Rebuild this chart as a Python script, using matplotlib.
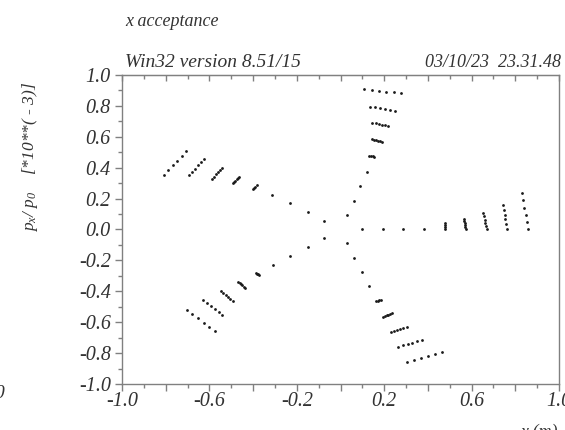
import numpy as np
import matplotlib
matplotlib.use("Agg")
import matplotlib.pyplot as plt
from matplotlib.ticker import MultipleLocator, FuncFormatter

plt.rcParams['font.family'] = ['Liberation Serif', 'DejaVu Serif']
plt.rcParams['font.style'] = 'italic'
plt.rcParams['axes.unicode_minus'] = False
plt.rcParams['mathtext.fontset'] = 'custom'
plt.rcParams['mathtext.it'] = 'Liberation Serif:italic'
plt.rcParams['mathtext.rm'] = 'Liberation Serif:italic'

# phase space points, five arms, inner -> outer (x in m, px/p0 in 1e-3)
ul_x = [-0.074, -0.150, -0.230, -0.312,
        -0.402, -0.396, -0.390, -0.384,
        -0.493, -0.487, -0.481, -0.475, -0.469, -0.463,
        -0.589, -0.580, -0.570, -0.561, -0.551, -0.542,
        -0.692, -0.678, -0.664, -0.651, -0.637, -0.623,
        -0.808, -0.788, -0.768, -0.747, -0.727, -0.707]
ul_y = [0.058, 0.115, 0.170, 0.221,
        0.260, 0.269, 0.278, 0.286,
        0.299, 0.308, 0.316, 0.325, 0.333, 0.342,
        0.329, 0.343, 0.357, 0.372, 0.386, 0.400,
        0.353, 0.374, 0.394, 0.415, 0.435, 0.456,
        0.353, 0.384, 0.415, 0.446, 0.477, 0.508]

ll_x = [-0.074, -0.150, -0.230, -0.308,
        -0.388, -0.383, -0.377, -0.372,
        -0.468, -0.462, -0.456, -0.449, -0.443, -0.437,
        -0.547, -0.536, -0.525, -0.515, -0.504, -0.493,
        -0.628, -0.611, -0.593, -0.576, -0.558, -0.541,
        -0.704, -0.678, -0.652, -0.626, -0.600, -0.574]
ll_y = [-0.053, -0.111, -0.170, -0.230,
        -0.280, -0.285, -0.289, -0.294,
        -0.338, -0.346, -0.354, -0.361, -0.369, -0.377,
        -0.396, -0.409, -0.422, -0.435, -0.448, -0.461,
        -0.456, -0.475, -0.495, -0.514, -0.534, -0.553,
        -0.521, -0.548, -0.575, -0.603, -0.630, -0.657]

up_x = [0.031, 0.062, 0.091, 0.120,
        0.132, 0.140, 0.147, 0.155,
        0.143, 0.152, 0.161, 0.170, 0.179, 0.188,
        0.146, 0.161, 0.175, 0.190, 0.204, 0.219,
        0.135, 0.158, 0.181, 0.203, 0.226, 0.249,
        0.109, 0.143, 0.176, 0.210, 0.243, 0.277]
up_y = [0.094, 0.186, 0.280, 0.374,
        0.478, 0.476, 0.473, 0.471,
        0.584, 0.581, 0.578, 0.574, 0.571, 0.568,
        0.691, 0.687, 0.682, 0.678, 0.674, 0.670,
        0.795, 0.790, 0.785, 0.779, 0.774, 0.769,
        0.907, 0.902, 0.897, 0.892, 0.887, 0.882]

rt_x = [0.097, 0.193, 0.288, 0.384,
        0.478, 0.478, 0.477, 0.477,
        0.573, 0.572, 0.570, 0.569, 0.567, 0.566,
        0.669, 0.666, 0.663, 0.660, 0.657, 0.654,
        0.760, 0.757, 0.754, 0.751, 0.748, 0.745,
        0.859, 0.853, 0.847, 0.841, 0.835, 0.829]
rt_y = [0.003, 0.003, 0.003, 0.003,
        0.003, 0.016, 0.029, 0.040,
        0.003, 0.016, 0.028, 0.041, 0.053, 0.066,
        0.003, 0.023, 0.044, 0.064, 0.085, 0.105,
        0.003, 0.034, 0.065, 0.097, 0.128, 0.159,
        0.003, 0.049, 0.095, 0.142, 0.188, 0.234]

lr_x = [0.031, 0.063, 0.097, 0.132,
        0.162, 0.170, 0.177, 0.185,
        0.196, 0.204, 0.211, 0.219, 0.226, 0.234,
        0.230, 0.245, 0.259, 0.274, 0.288, 0.303,
        0.265, 0.286, 0.307, 0.329, 0.350, 0.371,
        0.306, 0.337, 0.369, 0.400, 0.432, 0.463]
lr_y = [-0.089, -0.182, -0.273, -0.366,
        -0.463, -0.461, -0.458, -0.456,
        -0.564, -0.560, -0.555, -0.551, -0.546, -0.542,
        -0.661, -0.655, -0.650, -0.644, -0.639, -0.633,
        -0.759, -0.750, -0.741, -0.733, -0.724, -0.715,
        -0.856, -0.843, -0.830, -0.817, -0.804, -0.791]

x_labels = [-1.0, -0.6, -0.2, 0.2, 0.6, 1.0]

txt = '#333333'
axc = '#808080'

fig = plt.figure(figsize=(5.65, 4.30), dpi=100)
ax = fig.add_axes([122 / 565, 46 / 430, 437 / 565, 309 / 430])

for xs, ys in [(ul_x, ul_y), (ll_x, ll_y), (up_x, up_y), (rt_x, rt_y), (lr_x, lr_y)]:
    ax.plot(xs, ys, 'o', ms=2.0, mew=0, color='#1a1a1a')

ax.set_xlim(-1.0, 1.0)
ax.set_ylim(-1.0, 1.0)

for s in ax.spines.values():
    s.set_color(axc)
    s.set_linewidth(1.0)

ax.xaxis.set_major_locator(MultipleLocator(0.2))
ax.xaxis.set_minor_locator(MultipleLocator(0.1))
ax.yaxis.set_major_locator(MultipleLocator(0.2))
ax.yaxis.set_minor_locator(MultipleLocator(0.1))


def xfmt(v, pos):
    for l in x_labels:
        if abs(v - l) < 1e-6:
            return '%.1f' % l
    return ''


ax.xaxis.set_major_formatter(FuncFormatter(xfmt))
ax.yaxis.set_major_formatter(FuncFormatter(lambda v, p: '%.1f' % (0.0 if abs(v) < 1e-9 else v)))

ax.tick_params(which='both', direction='out', color=axc, labelcolor=txt,
               labelsize=14.5, right=False, top=False)
ax.tick_params(which='major', length=5, width=1.0)
ax.tick_params(which='minor', length=3, width=1.0)
ax.tick_params(axis='x', pad=1)
ax.tick_params(axis='y', pad=3)

top = ax.secondary_xaxis('top')
top.xaxis.set_major_locator(MultipleLocator(0.2))
top.xaxis.set_minor_locator(MultipleLocator(0.1))
top.tick_params(which='both', direction='in', color=axc, labeltop=False)
top.tick_params(which='major', length=4, width=1.0)
top.tick_params(which='minor', length=3, width=1.0)
top.spines['top'].set_color(axc)

fig.text(125 / 565, 1 - 26 / 430, 'x acceptance', fontsize=13, color=txt, ha='left', va='baseline')
fig.text(125 / 565, 1 - 67 / 430, 'Win32 version 8.51/15', fontsize=14, color=txt, ha='left', va='baseline')
fig.text(561 / 565, 1 - 67 / 430, '03/10/23  23.31.48', fontsize=13, color=txt, ha='right', va='baseline')
fig.text(30 / 565, 1 - 157 / 430, r'$p_x$/ $p_0$    [*10**( - 3)]', fontsize=12.5, color=txt,
         rotation=90, ha='center', va='center')
fig.text(558 / 565, 1 - 437 / 430, 'x (m)', fontsize=13, color=txt, ha='right', va='baseline')
fig.text(4 / 565, 1 - 398 / 430, '0', fontsize=14, color=txt, ha='right', va='baseline')

fig.savefig('out.png', dpi=100)
